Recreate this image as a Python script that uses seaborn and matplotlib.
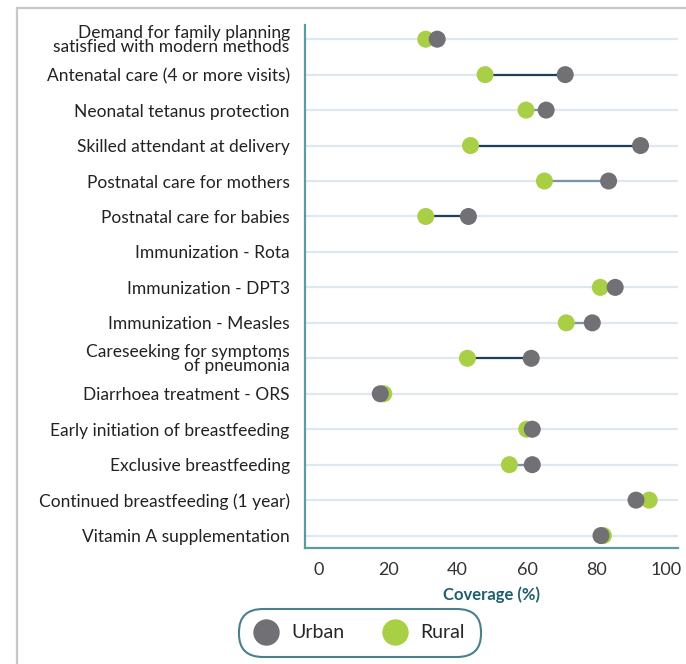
import matplotlib.pyplot as plt
from matplotlib.lines import Line2D
import seaborn as sns
import pandas as pd
import numpy as np

INDICATORS = [
    "Demand for family planning\nsatisfied with modern methods",
    "Antenatal care (4 or more visits)",
    "Neonatal tetanus protection",
    "Skilled attendant at delivery",
    "Postnatal care for mothers",
    "Postnatal care for babies",
    "Immunization - Rota",
    "Immunization - DPT3",
    "Immunization - Measles",
    "Careseeking for symptoms\nof pneumonia",
    "Diarrhoea treatment - ORS",
    "Early initiation of breastfeeding",
    "Exclusive breastfeeding",
    "Continued breastfeeding (1 year)",
    "Vitamin A supplementation",
]
URBAN = [34.1, 71.0, 65.5, 92.7, 83.5, 43.1, np.nan, 85.4, 78.8, 61.2, 17.7, 61.5, 61.5, 91.4, 81.3]
RURAL = [30.8, 47.9, 59.7, 43.7, 65.0, 30.8, np.nan, 81.1, 71.3, 42.8, 18.7, 59.9, 54.9, 95.2, 82.0]
# gap line shade: 1 = dark, 0 = light
LINE_DARK = [1, 1, 0, 1, 0, 1, 1, 0, 0, 1, 1, 0, 0, 0, 0]

GREY = "#707075"
GREEN = "#a8cf45"
TEAL = "#1d5f6e"
SPINE = "#5e9aa2"

sns.set_style("white")
plt.rcParams['font.family'] = ['Lato', 'DejaVu Sans']

rows = []
for name, r in zip(INDICATORS, RURAL):
    rows.append({"indicator": name, "area": "Rural", "value": r})
for name, u in zip(INDICATORS, URBAN):
    rows.append({"indicator": name, "area": "Urban", "value": u})
df = pd.DataFrame(rows).dropna()
pos = {name: i for i, name in enumerate(INDICATORS)}
df["y"] = df["indicator"].map(pos)

fig = plt.figure(figsize=(6.86, 6.64), dpi=100)
ax = fig.add_axes([305 / 686, 1 - 548 / 664, (678 - 305) / 686, (548 - 25) / 664])

# gridlines per row
for i in range(len(INDICATORS)):
    ax.axhline(i, color="#dfe8ee", lw=1.6, zorder=0)

# gap lines
for i, (u, r, d) in enumerate(zip(URBAN, RURAL, LINE_DARK)):
    if np.isnan(u) or np.isnan(r):
        continue
    ax.hlines(i, min(u, r), max(u, r), color="#1d3e5e" if d else "#7593ab",
              lw=1.6, zorder=1)

sns.scatterplot(data=df, x="value", y="y", hue="area",
                palette={"Urban": GREY, "Rural": GREEN},
                s=150, edgecolor="none", linewidth=0, alpha=1,
                legend=False, ax=ax, zorder=3)

ax.set_xlim(-4, 103.5)
ax.set_ylim(len(INDICATORS) - 1 + 0.35, -0.4)
ax.set_yticks(range(len(INDICATORS)))
ax.set_yticklabels(INDICATORS, fontsize=12.5, color="#222222", linespacing=0.88)
ax.set_xticks([0, 20, 40, 60, 80, 100])
ax.tick_params(axis="x", labelsize=13, colors="#333333", length=5, width=1,
               color=TEAL, pad=5)
ax.tick_params(axis="y", length=5, width=1, color=TEAL, pad=6)
ax.set_xlabel("Coverage (%)", fontsize=12, fontweight="bold", color=TEAL, labelpad=6)
ax.set_ylabel("")

for side in ["top", "right"]:
    ax.spines[side].set_visible(False)
for side in ["left", "bottom"]:
    ax.spines[side].set_color(SPINE)
    ax.spines[side].set_linewidth(1.6)

# outer frame lines (left and top)
fig.add_artist(Line2D([17 / 686, 17 / 686], [0, 1 - 8 / 664], color="#c8c8c8", lw=1.6))
fig.add_artist(Line2D([17 / 686, 1], [1 - 8 / 664, 1 - 8 / 664], color="#c8c8c8", lw=1.6))

handles = [
    Line2D([], [], marker="o", ls="none", markersize=19, markerfacecolor=GREY,
           markeredgecolor="none", label="Urban"),
    Line2D([], [], marker="o", ls="none", markersize=19, markerfacecolor=GREEN,
           markeredgecolor="none", label="Rural"),
]
leg = fig.legend(handles=handles, loc="center", bbox_to_anchor=(360 / 686, 1 - 633 / 664),
                 ncol=2, frameon=True, fontsize=14, handletextpad=0.7,
                 columnspacing=2.0, borderpad=0.5, handlelength=1.2)
frame = leg.get_frame()
frame.set_edgecolor(TEAL)
frame.set_linewidth(1.5)
frame.set_boxstyle("round,pad=0.3,rounding_size=1.2")

fig.savefig("out.png", dpi=100)
